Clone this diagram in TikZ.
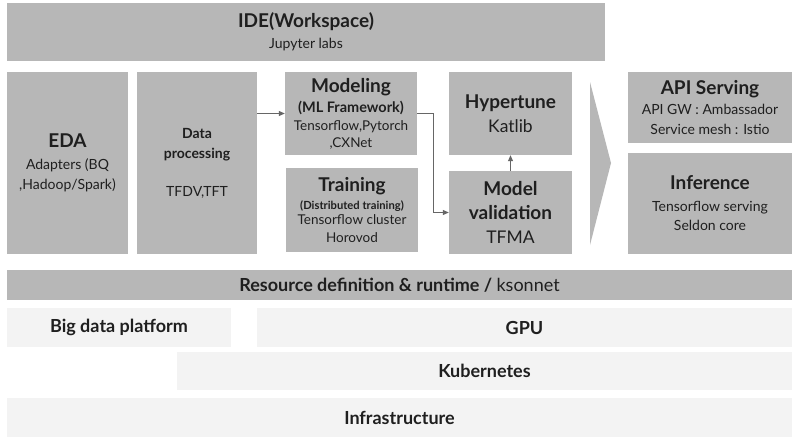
\documentclass[tikz,border=0pt]{standalone}
\usepackage{fontspec}
\setmainfont{Lato}
\usetikzlibrary{arrows.meta}
\definecolor{boxgray}{HTML}{B7B7B7}
\definecolor{layergray}{HTML}{F3F3F3}
\definecolor{linegray}{HTML}{666666}
\definecolor{txt}{HTML}{1F1F1F}
\newcommand{\ttlf}{\bfseries\fontsize{19}{22}\selectfont}
\newcommand{\bodyf}{\fontsize{14}{17}\selectfont}
\newcommand{\midf}{\fontsize{13.5}{16}\selectfont}
\newcommand{\subbf}{\bfseries\fontsize{14}{17}\selectfont}
\newcommand{\mlbf}{\bfseries\fontsize{14.5}{17}\selectfont}
\newcommand{\smallbf}{\bfseries\fontsize{11.2}{13}\selectfont}
\newcommand{\valf}{\fontsize{17.5}{20}\selectfont}
\begin{document}
\begin{tikzpicture}[x=1pt,y=-1pt,
  box/.style={fill=boxgray, inner sep=0pt, align=center, text=txt, font=\fontsize{14}{20}\selectfont},
  layer/.style={fill=layergray, inner sep=0pt, align=center, text=txt, font=\bfseries\fontsize{18}{21}\selectfont},
  conn/.style={draw=linegray, line width=0.8pt, -{Triangle[length=6pt,width=5pt]}}]
\useasboundingbox (0,0) rectangle (800,445);
\fill[white] (0,0) rectangle (800,445);

\node[box, minimum width=598pt, minimum height=58pt] (ide) at (306,32)
  {{\ttlf IDE(Workspace)}\\[1pt]{\bodyf Jupyter labs}};

\node[box, minimum width=121pt, minimum height=182pt] (eda) at (67.5,163)
  {{\ttlf EDA}\\[2pt]{\bodyf Adapters (BQ}\\{\bodyf ,Hadoop/Spark)}};

\node[box, minimum width=120pt, minimum height=182pt] (data) at (197,163)
  {{\subbf Data}\\{\subbf processing}\\[18pt]{\bodyf TFDV,TFT}};

\node[box, minimum width=132pt, minimum height=83pt] (model) at (351,113.5)
  {{\ttlf Modeling}\\[0pt]{\mlbf (ML Framework)}\\[-2pt]{\midf Tensorflow,Pytorch}\\[-3pt]{\midf ,CXNet}};

\node[box, minimum width=132pt, minimum height=84pt] (train) at (352,210)
  {{\ttlf Training}\\[-2pt]{\smallbf (Distributed training)}\\[-5pt]{\midf Tensorflow cluster}\\[-2pt]{\midf Horovod}};

\node[box, minimum width=123pt, minimum height=83pt] (hyper) at (510.5,113.5)
  {{\ttlf Hypertune}\\[4pt]{\valf Katlib}};

\node[box, minimum width=123pt, minimum height=83pt] (valid) at (510.5,212.5)
  {{\ttlf Model}\\[4pt]{\ttlf validation}\\[4pt]{\valf TFMA}};

\node[box, minimum width=164pt, minimum height=71pt] (api) at (710,107.5)
  {{\ttlf API Serving}\\[0pt]{\bodyf API GW : Ambassador}\\{\bodyf Service mesh : Istio}};

\node[box, minimum width=164pt, minimum height=101pt] (infer) at (710,203.5)
  {{\ttlf Inference}\\[2pt]{\bodyf Tensorflow serving}\\[-1pt]{\bodyf Seldon core}};

\fill[boxgray] (590,82) -- (611,163) -- (590,245) -- cycle;

\node[box, minimum width=785pt, minimum height=30pt, font=\bfseries\fontsize{18}{21}\selectfont] (res) at (399.5,285)
  {Resource definition \& runtime / {\mdseries ksonnet}};
\node[layer, minimum width=224pt, minimum height=39pt] (bigdata) at (119,327.5) {Big data platform};
\node[layer, minimum width=535pt, minimum height=39pt] (gpu) at (524.5,327.5) {GPU};
\node[layer, minimum width=615pt, minimum height=38pt] (k8s) at (484.5,371) {Kubernetes};
\node[layer, minimum width=785pt, minimum height=39pt] (infra) at (399.5,417.5) {Infrastructure};

\draw[conn] (data.east |- model.west) -- (model.west);
\draw[conn] (model.east) -- ++(16,0) |- (valid.west);
\draw[conn] (valid.north) -- (hyper.south);
\end{tikzpicture}
\end{document}
